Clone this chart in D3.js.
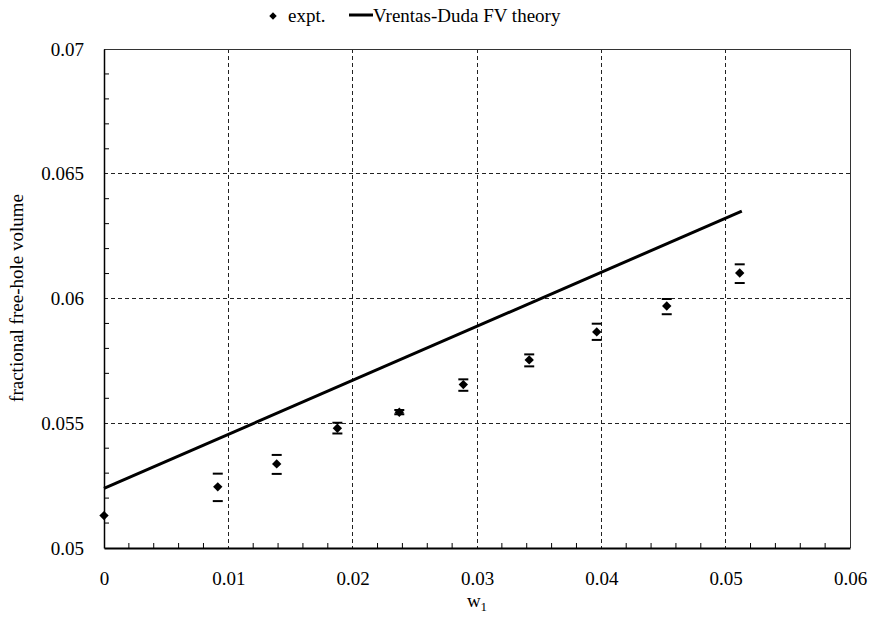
<!DOCTYPE html>
<html>
<head>
<meta charset="utf-8">
<script src="https://cdn.jsdelivr.net/npm/d3@7"></script>
<style>
  html, body { margin: 0; padding: 0; background: #fff; }
  svg { display: block; }
</style>
</head>
<body>
<svg id="chart" width="871" height="621" font-family="Liberation Serif, Times New Roman, serif"></svg>
<script>
// ---- data ----
const expX = [0, 0.00915, 0.01389, 0.01877, 0.02375, 0.0289, 0.0342, 0.03963, 0.04526, 0.05113];
const expY = [0.0513, 0.05245, 0.05337, 0.0548, 0.05544, 0.05655, 0.05754, 0.05866, 0.0597, 0.06102];
const errHi = [null, 0.05298, 0.05373, 0.05502, 0.05553, 0.05676, 0.05776, 0.05899, 0.05998, 0.06137];
const errLo = [null, 0.05188, 0.05297, 0.05459, 0.05536, 0.0563, 0.05728, 0.05834, 0.05937, 0.06062];
const theoryX = [0, 0.0513];
const theoryY = [0.05239, 0.0635];
const xTicks = [0, 0.01, 0.02, 0.03, 0.04, 0.05, 0.06];
const yTicks = [0.05, 0.055, 0.06, 0.065, 0.07];
const seriesNames = ["expt.", "Vrentas-Duda FV theory"];

// ---- layout ----
const FONT = "Liberation Serif, Times New Roman, serif";
const svg = d3.select("#chart");
const L = 104, R = 850, T = 49, B = 548;
const x = d3.scaleLinear().domain([0, 0.06]).range([L, R]);
const y = d3.scaleLinear().domain([0.05, 0.07]).range([B, T]);
const fs = 19;

// gridlines
const grid = svg.append("g");
grid.selectAll("line.gx").data(xTicks.slice(1)).join("line")
  .attr("x1", d => x(d)).attr("x2", d => x(d)).attr("y1", T).attr("y2", B)
  .attr("stroke", "#222").attr("stroke-width", 1).attr("stroke-dasharray", "4,3")
  .attr("shape-rendering", "crispEdges");
grid.selectAll("line.gy").data(yTicks.slice(1)).join("line")
  .attr("x1", L).attr("x2", R).attr("y1", d => y(d)).attr("y2", d => y(d))
  .attr("stroke", "#222").attr("stroke-width", 1).attr("stroke-dasharray", "4,3")
  .attr("shape-rendering", "crispEdges");
// top/right border
svg.append("path").attr("d", `M${L},${T}H${R}V${B}`).attr("fill", "none")
  .attr("stroke", "#333").attr("stroke-width", 1).attr("shape-rendering", "crispEdges");

// x axis
const minorX = d3.range(0, 0.0601, 0.002).filter(v => Math.abs(v / 0.01 - Math.round(v / 0.01)) > 1e-6);
const xAxis = svg.append("g").attr("transform", `translate(0,${B})`)
  .call(d3.axisBottom(x).tickValues(xTicks).tickSize(0).tickPadding(24).tickFormat(d => String(+d.toFixed(2))));
xAxis.attr("font-family", FONT).attr("font-size", fs);
xAxis.select(".domain").attr("stroke", "#000").attr("stroke-width", 2);
svg.append("g").selectAll("line").data(minorX).join("line")
  .attr("x1", d => x(d)).attr("x2", d => x(d)).attr("y1", B).attr("y2", B - 5)
  .attr("stroke", "#000").attr("stroke-width", 1);

// y axis
const minorY = d3.range(0.05, 0.0701, 0.001).filter(v => Math.abs(v / 0.005 - Math.round(v / 0.005)) > 1e-6);
const yAxis = svg.append("g").attr("transform", `translate(${L},0)`)
  .call(d3.axisLeft(y).tickValues(yTicks).tickSize(0).tickPadding(20).tickFormat(d => String(+d.toFixed(3))));
yAxis.attr("font-family", FONT).attr("font-size", fs);
yAxis.select(".domain").attr("stroke", "#000").attr("stroke-width", 1.5);
svg.append("g").selectAll("line").data(minorY).join("line")
  .attr("x1", L).attr("x2", L + 5).attr("y1", d => y(d)).attr("y2", d => y(d))
  .attr("stroke", "#000").attr("stroke-width", 1);

// theory line
const theory = theoryX.map((v, i) => [v, theoryY[i]]);
svg.append("path").datum(theory)
  .attr("d", d3.line().x(d => x(d[0])).y(d => y(d[1])))
  .attr("fill", "none").attr("stroke", "#000").attr("stroke-width", 3);

// error bar caps
const expData = expX.map((v, i) => ({ x: v, y: expY[i], hi: errHi[i], lo: errLo[i] }));
const caps = svg.append("g");
expData.filter(d => d.hi != null).forEach(d => {
  [d.hi, d.lo].forEach(v => {
    caps.append("line")
      .attr("x1", x(d.x) - 5).attr("x2", x(d.x) + 5)
      .attr("y1", y(v)).attr("y2", y(v))
      .attr("stroke", "#000").attr("stroke-width", 2);
  });
});

// markers
const diamond = d3.symbol().type(d3.symbolDiamond2).size(56);
svg.append("g").selectAll("path").data(expData).join("path")
  .attr("d", diamond)
  .attr("transform", d => `translate(${x(d.x)},${y(d.y)})`)
  .attr("fill", "#000");

// legend
const lg = svg.append("g");
lg.append("path").attr("d", d3.symbol().type(d3.symbolDiamond2).size(36))
  .attr("transform", "translate(273,16)").attr("fill", "#000");
lg.append("text").attr("x", 288).attr("y", 22).attr("font-size", fs).text(seriesNames[0]);
lg.append("line").attr("x1", 349).attr("x2", 373).attr("y1", 15).attr("y2", 15)
  .attr("stroke", "#000").attr("stroke-width", 3);
lg.append("text").attr("x", 373).attr("y", 22).attr("font-size", fs).text(seriesNames[1]);

// axis titles
const xt = svg.append("text").attr("x", 477).attr("y", 607).attr("text-anchor", "middle").attr("font-size", fs);
xt.append("tspan").text("w");
xt.append("tspan").attr("font-size", 13).attr("dy", 4).text("1");
svg.append("text").attr("transform", "translate(23,298) rotate(-90)")
  .attr("text-anchor", "middle").attr("font-size", fs).text("fractional free-hole volume");

svg.selectAll("text").attr("font-family", FONT).style("font-family", FONT).attr("fill", "#000");
</script>
</body>
</html>
